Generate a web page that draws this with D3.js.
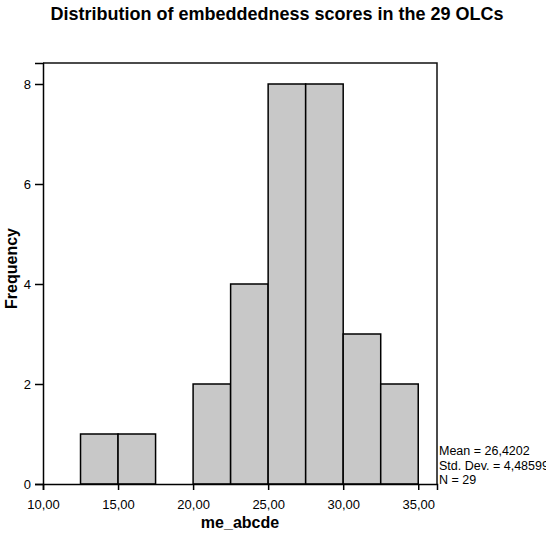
<!DOCTYPE html>
<html>
<head>
<meta charset="utf-8">
<script src="https://cdn.jsdelivr.net/npm/d3@7"></script>
<style>
  body { margin: 0; background: #fff; }
  text { font-family: "Liberation Sans", Arial, sans-serif; }
</style>
</head>
<body>
<script>
// histogram bins (lower edge) and counts
const binStarts = [12.5, 15, 17.5, 20, 22.5, 25, 27.5, 30, 32.5];
const binWidth = 2.5;
const counts = [1, 1, 0, 2, 4, 8, 8, 3, 2];
const xTicks = [10, 15, 20, 25, 30, 35];
const yTicks = [0, 2, 4, 6, 8];
const stats = ["Mean = 26,4202", "Std. Dev. = 4,48599", "N = 29"];

const W = 546, H = 533;
const plotL = 43, plotR = 437, plotT = 63, plotB = 484;

const svg = d3.select("body").append("svg")
    .attr("width", W)
    .attr("height", H);

const x = d3.scaleLinear().domain([10, 36.25]).range([plotL, plotR]);
const y = d3.scaleLinear().domain([0, 8.42]).range([plotB, plotT]);

// title
svg.append("text")
    .attr("x", 277).attr("y", 20)
    .attr("text-anchor", "middle")
    .style("font-size", "18px").style("font-weight", "bold")
    .text("Distribution of embeddedness scores in the 29 OLCs");

// bars
svg.selectAll(".bar")
    .data(binStarts.map((s, i) => ({ s: s, n: counts[i] })).filter(d => d.n > 0))
    .enter().append("rect")
    .attr("class", "bar")
    .attr("x", d => x(d.s))
    .attr("y", d => y(d.n))
    .attr("width", d => x(d.s + binWidth) - x(d.s))
    .attr("height", d => y(0) - y(d.n))
    .style("fill", "#c8c8c8")
    .style("stroke", "#000")
    .style("stroke-width", 1.5);

// frame (top and right)
svg.append("path")
    .attr("d", "M" + plotL + "," + plotT + "H" + plotR + "V" + plotB)
    .style("fill", "none")
    .style("stroke", "#111")
    .style("stroke-width", 1.5);

// axes
const xAxis = svg.append("g")
    .attr("transform", "translate(0," + plotB + ")")
    .call(d3.axisBottom(x).tickValues(xTicks).tickSizeOuter(0).tickSize(6).tickPadding(10)
        .tickFormat(d => d3.format(".2f")(d).replace(".", ",")));

const yAxis = svg.append("g")
    .attr("transform", "translate(" + plotL + ",0)")
    .call(d3.axisLeft(y).tickValues(yTicks).tickSizeOuter(0).tickSize(8).tickPadding(4));

[xAxis, yAxis].forEach(a => {
    a.select(".domain").style("stroke", "#000").style("stroke-width", 1.5);
    a.selectAll(".tick line").style("stroke", "#000").style("stroke-width", 1.5);
    a.selectAll(".tick text")
        .style("font-family", "'Liberation Sans', Arial, sans-serif")
        .style("font-size", "13px")
        .style("fill", "#000");
});

// axis titles
svg.append("text")
    .attr("x", (plotL + plotR) / 2).attr("y", 528)
    .attr("text-anchor", "middle")
    .style("font-size", "16px").style("font-weight", "bold")
    .text("me_abcde");

svg.append("text")
    .attr("transform", "translate(17," + ((plotT + plotB) / 2 - 5) + ") rotate(-90)")
    .attr("text-anchor", "middle")
    .style("font-size", "16px").style("font-weight", "bold")
    .text("Frequency");

// statistics box (clipped at the right edge, as in the original export)
svg.selectAll(".stat")
    .data(stats)
    .enter().append("text")
    .attr("class", "stat")
    .attr("x", 439)
    .attr("y", (d, i) => 455 + i * 14.5)
    .style("font-size", "12.5px")
    .text(d => d);
</script>
</body>
</html>
